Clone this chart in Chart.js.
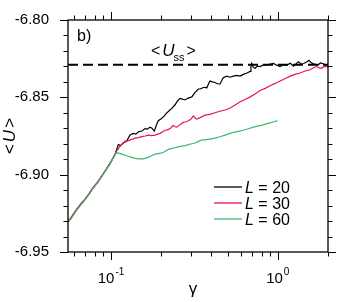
<!DOCTYPE html>
<html><head><meta charset="utf-8">
<script src="https://cdn.jsdelivr.net/npm/chart.js@4.4.1/dist/chart.umd.min.js"></script>
<style>html,body{margin:0;padding:0;background:#fff}canvas{display:block}</style>
</head><body>
<canvas id="c" width="338" height="302"></canvas>
<script>
// ---- data ----
const gamma20 = [0.0552,0.058,0.062,0.066,0.070,0.074,0.078,0.083,0.088,0.093,0.098,0.102,0.106,
 0.108,0.1106,0.114,0.1185,0.124,0.130,0.136,0.141,0.146,0.153,0.160,0.165,0.171,0.176,0.182,0.187,0.192,0.200,0.208,0.216,0.224,0.232,0.242,0.250,0.259,0.268,0.278,0.290,0.305,0.318,0.334,0.342,0.355,0.366,0.375,0.385,0.392,0.405,0.420,0.435,0.450,0.462,0.471,0.494,0.515,0.542,0.565,0.595,0.625,0.653,0.683,0.690,0.698,0.712,0.731,0.755,0.783,0.820,0.859,0.900,0.942,0.985,1.033,1.08,1.133,1.19,1.24,1.29,1.33,1.38,1.43,1.49,1.54,1.58,1.62,1.68,1.74,1.80,1.86,1.93,2.0];
const u20 = [-6.9305,-6.9275,-6.9228,-6.919,-6.9158,-6.9122,-6.9085,-6.905,-6.901,-6.897,-6.8932,-6.890,-6.8865,
 -6.8838,-6.8806,-6.8812,-6.8795,-6.8782,-6.8744,-6.8733,-6.8738,-6.8723,-6.8718,-6.8702,-6.8706,-6.8693,-6.8700,-6.8718,-6.8680,-6.8651,-6.8638,-6.8622,-6.8600,-6.8585,-6.8570,-6.8548,-6.8525,-6.8507,-6.8512,-6.8517,-6.8505,-6.8497,-6.8470,-6.8446,-6.8446,-6.8438,-6.8435,-6.8440,-6.8410,-6.8394,-6.8400,-6.8404,-6.8412,-6.8415,-6.8390,-6.8373,-6.8363,-6.8370,-6.8363,-6.8358,-6.8363,-6.8350,-6.8343,-6.8332,-6.8300,-6.8281,-6.8305,-6.8312,-6.8298,-6.8301,-6.8290,-6.8291,-6.8285,-6.8281,-6.8292,-6.8301,-6.8288,-6.8291,-6.8280,-6.8298,-6.8282,-6.8270,-6.8285,-6.8281,-6.8272,-6.8260,-6.8275,-6.8281,-6.8286,-6.8291,-6.8278,-6.8281,-6.8290,-6.8291];

const gamma30 = [0.0552,0.058,0.062,0.066,0.070,0.074,0.078,0.083,0.088,0.093,0.098,0.102,0.106,
 0.108,0.111,0.115,0.121,0.126,0.130,0.135,0.139,0.146,0.153,0.160,0.167,0.175,0.184,0.190,0.197,0.204,0.211,0.218,0.226,0.236,0.242,0.248,0.260,0.271,0.281,0.291,0.302,0.312,0.320,0.327,0.342,0.366,0.392,0.420,0.450,0.483,0.518,0.555,0.595,0.640,0.683,0.730,0.783,0.840,0.899,0.965,1.033,1.11,1.19,1.27,1.36,1.46,1.56,1.63,1.70,1.76,1.82,1.91,2.0];
const u30 = [-6.9303,-6.9273,-6.9226,-6.9188,-6.9156,-6.9120,-6.9083,-6.9048,-6.9008,-6.8968,-6.8930,-6.8898,-6.8866,
 -6.8848,-6.8830,-6.8808,-6.8785,-6.8782,-6.8775,-6.8770,-6.8764,-6.8760,-6.8754,-6.8750,-6.8744,-6.8748,-6.8744,-6.8738,-6.8733,-6.8722,-6.8713,-6.8710,-6.8702,-6.8682,-6.8690,-6.8693,-6.8675,-6.8662,-6.8658,-6.8651,-6.8640,-6.8620,-6.8635,-6.8641,-6.8631,-6.8615,-6.8610,-6.8600,-6.8590,-6.8582,-6.8569,-6.8550,-6.8528,-6.8512,-6.8497,-6.8478,-6.8456,-6.8442,-6.8425,-6.8410,-6.8394,-6.8378,-6.8363,-6.8352,-6.8343,-6.8330,-6.8322,-6.8310,-6.8301,-6.8308,-6.8312,-6.8300,-6.8301];

const gamma60 = [0.0552,0.058,0.062,0.066,0.070,0.074,0.078,0.083,0.088,0.093,0.098,0.102,0.106,
 0.108,0.112,0.116,0.124,0.133,0.140,0.146,0.156,0.167,0.175,0.184,0.195,0.206,0.214,0.221,0.232,0.242,0.253,0.265,0.278,0.291,0.305,0.319,0.335,0.350,0.366,0.390,0.420,0.450,0.483,0.512,0.542,0.580,0.622,0.665,0.715,0.765,0.822,0.860,0.899,0.950,0.995];
const u60 = [-6.9310,-6.9280,-6.9233,-6.9195,-6.9162,-6.9126,-6.9089,-6.9053,-6.9013,-6.8973,-6.8935,-6.8902,-6.8870,
 -6.8857,-6.8862,-6.8867,-6.8878,-6.8888,-6.8895,-6.8898,-6.8898,-6.8888,-6.8878,-6.8867,-6.8862,-6.8857,-6.8845,-6.8836,-6.8830,-6.8826,-6.8820,-6.8816,-6.8812,-6.8806,-6.8800,-6.8795,-6.8785,-6.8775,-6.8775,-6.8770,-6.8764,-6.8755,-6.8744,-6.8735,-6.8727,-6.8720,-6.8713,-6.8703,-6.8693,-6.8685,-6.8678,-6.8670,-6.8665,-6.8658,-6.8651];

const uSS = -6.829;
const gammaRange = [0.0552, 2.0];
const uRange = [-6.95, -6.80];
const seriesLabels = ['L = 20', 'L = 30', 'L = 60'];
const xMajorTicks = [0.1, 1];
const xMajorExps = ['-1', '0'];
const xMinorTicks = [0.06,0.07,0.08,0.09,0.2,0.3,0.4,0.5,0.6,0.7,0.8,0.9,2];
const yTickStep = 0.05;
const yMinorStep = 0.01;

const colors = ['#000000', '#e8174a', '#3db873'];
const pts = (g, u) => g.map((x, i) => ({x, y: u[i]}));
const FONT = '"Liberation Sans", Arial, Helvetica, sans-serif';

const decor = {
  id: 'decor',
  afterDatasetsDraw(chart) {
    const ctx = chart.ctx, a = chart.chartArea;
    const xs = chart.scales.x, ys = chart.scales.y;
    ctx.save();
    ctx.strokeStyle = '#000'; ctx.fillStyle = '#000';
    ctx.lineWidth = 1.3;
    ctx.strokeRect(a.left, a.top, a.right - a.left, a.bottom - a.top);
    ctx.lineWidth = 1;
    ctx.beginPath();
    const n = Math.round((uRange[1] - uRange[0]) / yMinorStep);
    for (let i = 0; i <= n; i++) {
      const v = uRange[0] + i * yMinorStep;
      const p = Math.round(ys.getPixelForValue(v)) + 0.5;
      const len = (i % Math.round(yTickStep / yMinorStep) === 0) ? 8 : 4.5;
      ctx.moveTo(a.left, p); ctx.lineTo(a.left - len, p);
      ctx.moveTo(a.right, p); ctx.lineTo(a.right + len, p);
    }
    const xt = (v, len) => {
      const p = Math.round(xs.getPixelForValue(v)) + 0.5;
      ctx.moveTo(p, a.bottom); ctx.lineTo(p, a.bottom + len);
      ctx.moveTo(p, a.top); ctx.lineTo(p, a.top - len);
    };
    xMajorTicks.forEach(v => xt(v, 8));
    xMinorTicks.forEach(v => xt(v, 4.5));
    ctx.stroke();

    ctx.textBaseline = 'alphabetic';
    xMajorTicks.forEach((v, i) => {
      const p = xs.getPixelForValue(v);
      ctx.font = '15px ' + FONT;
      const wb = ctx.measureText('10').width;
      ctx.font = '10px ' + FONT;
      const we = ctx.measureText(xMajorExps[i]).width;
      const x0 = p - (wb + we + 1) / 2;
      ctx.font = '15px ' + FONT;
      ctx.textAlign = 'left';
      ctx.fillText('10', x0, a.bottom + 31);
      ctx.font = '10px ' + FONT;
      ctx.fillText(xMajorExps[i], x0 + wb + 1, a.bottom + 23);
    });
    ctx.font = '17px ' + FONT;
    ctx.textAlign = 'center';
    ctx.fillText('\u03b3', (a.left + a.right) / 2 - 5, a.bottom + 42);

    ctx.save();
    ctx.translate(15, (a.top + a.bottom) / 2 + 0);
    ctx.rotate(-Math.PI / 2);
    const parts = [['<', '17px '], ['U', 'italic 17px '], ['>', '17px ']];
    let tw = 0; const ws = [];
    parts.forEach(pp => { ctx.font = pp[1] + FONT; const w = ctx.measureText(pp[0]).width; ws.push(w); tw += w; });
    tw += 4;
    let cx = -tw / 2;
    ctx.textAlign = 'left';
    parts.forEach((pp, i) => { ctx.font = pp[1] + FONT; ctx.fillText(pp[0], cx, 0); cx += ws[i] + 2; });
    ctx.restore();

    ctx.textAlign = 'left';
    ctx.font = '16px ' + FONT;
    ctx.fillText('b)', a.left + 9, a.top + 21);

    let x = a.left + 83;
    const by = ys.getPixelForValue(uSS) - 9;
    ctx.font = '16px ' + FONT;
    ctx.fillText('<', x, by); x += ctx.measureText('<').width + 2;
    ctx.font = 'italic 17px ' + FONT;
    ctx.fillText('U', x, by); x += ctx.measureText('U').width - 1;
    ctx.font = '11px ' + FONT;
    ctx.fillText('ss', x, by + 5); x += ctx.measureText('ss').width + 2;
    ctx.font = '16px ' + FONT;
    ctx.fillText('>', x, by);

    const lx = a.left + 146, ly = a.top + 167;
    chart.data.datasets.slice(0, 3).forEach((ds, i) => {
      const y = ly + i * 16;
      ctx.strokeStyle = ds.borderColor; ctx.lineWidth = 1.3;
      ctx.beginPath(); ctx.moveTo(lx, y); ctx.lineTo(lx + 28, y); ctx.stroke();
      ctx.fillStyle = '#000';
      ctx.font = 'italic 16px ' + FONT;
      ctx.fillText('L', lx + 31, y + 6);
      const wl = ctx.measureText('L').width;
      ctx.font = '16px ' + FONT;
      ctx.fillText(seriesLabels[i].slice(1), lx + 31 + wl, y + 6);
    });
    ctx.restore();
  }
};

new Chart(document.getElementById('c'), {
  type: 'line',
  data: {
    datasets: [
      {label: seriesLabels[0], data: pts(gamma20, u20), borderColor: colors[0], borderWidth: 1.2, pointRadius: 0, tension: 0, order: 2},
      {label: seriesLabels[1], data: pts(gamma30, u30), borderColor: colors[1], borderWidth: 1.2, pointRadius: 0, tension: 0, order: 1},
      {label: seriesLabels[2], data: pts(gamma60, u60), borderColor: colors[2], borderWidth: 1.2, pointRadius: 0, tension: 0, order: 0},
      {label: 'Uss', data: pts(gammaRange, [uSS, uSS]), borderColor: '#000', borderWidth: 2, borderDash: [10, 5], pointRadius: 0, order: 3}
    ]
  },
  options: {
    responsive: false, animation: false, devicePixelRatio: 1,
    layout: {padding: {top: 9.3, right: 10, left: 0, bottom: 0}},
    plugins: {legend: {display: false}, tooltip: {enabled: false}},
    scales: {
      x: {type: 'logarithmic', min: gammaRange[0], max: gammaRange[1],
          grid: {display: false}, border: {display: false}, ticks: {display: false},
          afterFit(s) { s.height = 50; }},
      y: {type: 'linear', min: uRange[0], max: uRange[1],
          grid: {display: false}, border: {display: false},
          ticks: {stepSize: yTickStep, padding: 11, color: '#000', font: {family: FONT, size: 15},
                  callback: v => v.toFixed(2)},
          afterFit(s) { s.width = 68; }}
    }
  },
  plugins: [decor]
});
</script>
</body></html>
